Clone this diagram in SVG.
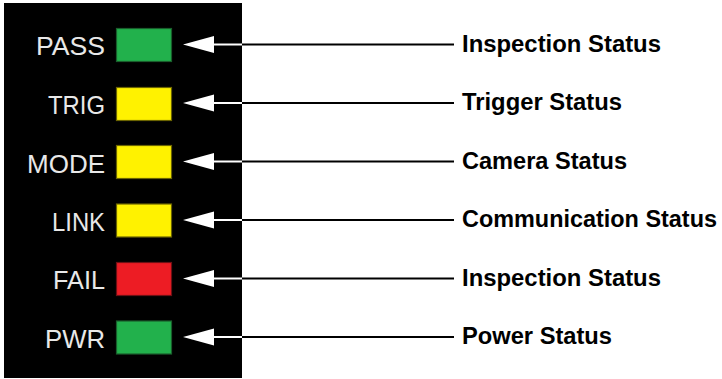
<svg xmlns="http://www.w3.org/2000/svg" width="722" height="379" viewBox="0 0 722 379">
<style>
.lbl{font-family:"Liberation Sans",Arial,sans-serif;font-size:25.5px;fill:#e8e8e8;text-anchor:end}
.desc{font-family:"Liberation Sans",Arial,sans-serif;font-size:23.5px;font-weight:bold;fill:#000}
.led{stroke-width:1.2}
.g{fill:#22b14c;stroke:#1a5e2c}
.y{fill:#fff200;stroke:#6b6400}
.r{fill:#ed1c24;stroke:#6e1014}
.conn line{stroke:#000;stroke-width:2}
.conn line.in{stroke:#fff}
.head{fill:#fff}
</style>
<rect x="4" y="3" width="238" height="375" fill="#000"/>
<g id="pass"><text class="lbl" x="105" y="55" textLength="69" lengthAdjust="spacingAndGlyphs">PASS</text><rect class="led g" x="116.5" y="28.5" width="55" height="33"/></g>
<g id="trig"><text class="lbl" x="105" y="113.5" textLength="57" lengthAdjust="spacingAndGlyphs">TRIG</text><rect class="led y" x="116.5" y="87.5" width="55" height="33"/></g>
<g id="mode"><text class="lbl" x="105" y="172.5" textLength="78" lengthAdjust="spacingAndGlyphs">MODE</text><rect class="led y" x="116.5" y="145.5" width="55" height="33"/></g>
<g id="link"><text class="lbl" x="105" y="230.5" textLength="53" lengthAdjust="spacingAndGlyphs">LINK</text><rect class="led y" x="116.5" y="204" width="55" height="33"/></g>
<g id="fail"><text class="lbl" x="105" y="289" textLength="52" lengthAdjust="spacingAndGlyphs">FAIL</text><rect class="led r" x="116.5" y="262.5" width="55" height="33"/></g>
<g id="pwr"><text class="lbl" x="105" y="347.5" textLength="60" lengthAdjust="spacingAndGlyphs">PWR</text><rect class="led g" x="116.5" y="321" width="55" height="33"/></g>
<g id="connectors" class="conn">
<line class="in" x1="212" y1="44.5" x2="242" y2="44.5"/><line x1="242" y1="44.5" x2="454" y2="44.5"/><polygon class="head" points="183,44.5 214,36 214,53"/>
<line class="in" x1="212" y1="103" x2="242" y2="103"/><line x1="242" y1="103" x2="454" y2="103"/><polygon class="head" points="183,103 214,94.5 214,111.5"/>
<line class="in" x1="212" y1="161.5" x2="242" y2="161.5"/><line x1="242" y1="161.5" x2="454" y2="161.5"/><polygon class="head" points="183,161.5 214,153 214,170"/>
<line class="in" x1="212" y1="220" x2="242" y2="220"/><line x1="242" y1="220" x2="454" y2="220"/><polygon class="head" points="183,220 214,211.5 214,228.5"/>
<line class="in" x1="212" y1="278.5" x2="242" y2="278.5"/><line x1="242" y1="278.5" x2="454" y2="278.5"/><polygon class="head" points="183,278.5 214,270 214,287"/>
<line class="in" x1="212" y1="337" x2="242" y2="337"/><line x1="242" y1="337" x2="454" y2="337"/><polygon class="head" points="183,337 214,328.5 214,345.5"/>
</g>
<g id="desc-pass"><text class="desc" x="462" y="51.5" textLength="199" lengthAdjust="spacingAndGlyphs">Inspection Status</text></g>
<g id="desc-trig"><text class="desc" x="462" y="110" textLength="160" lengthAdjust="spacingAndGlyphs">Trigger Status</text></g>
<g id="desc-mode"><text class="desc" x="462" y="168.5" textLength="165" lengthAdjust="spacingAndGlyphs">Camera Status</text></g>
<g id="desc-link"><text class="desc" x="462" y="227" textLength="255" lengthAdjust="spacingAndGlyphs">Communication Status</text></g>
<g id="desc-fail"><text class="desc" x="462" y="285.5" textLength="199" lengthAdjust="spacingAndGlyphs">Inspection Status</text></g>
<g id="desc-pwr"><text class="desc" x="462" y="344" textLength="150" lengthAdjust="spacingAndGlyphs">Power Status</text></g>
</svg>
